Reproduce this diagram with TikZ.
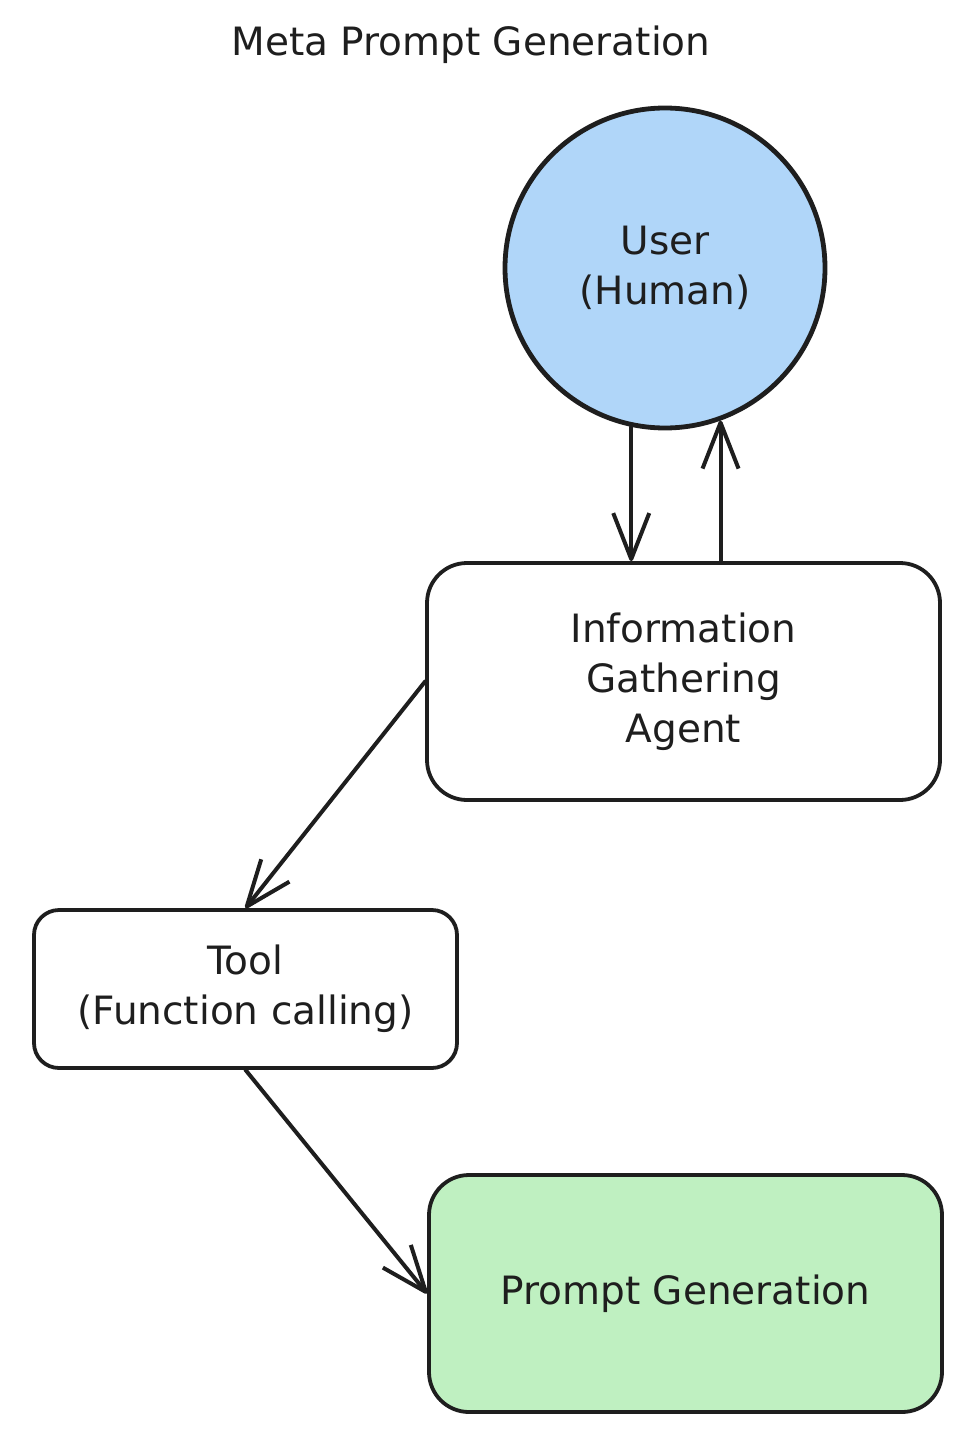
\documentclass[tikz,border=0pt]{standalone}
\usepackage{fontspec}
\setmainfont{DejaVu Sans}
\usetikzlibrary{arrows.meta}
\definecolor{ink}{RGB}{30,30,30}
\definecolor{userblue}{RGB}{176,214,249}
\definecolor{promptgreen}{RGB}{191,240,193}
\begin{document}
\begin{tikzpicture}[x=1pt,y=-1pt,
  txt/.style={font=\fontsize{39}{50}\selectfont, text=ink, align=center},
  box/.style={txt, draw=ink, line width=3.8pt, rectangle, inner sep=0pt},
  arr/.style={draw=ink, line width=4pt, line cap=round,
    -{Straight Barb[length=46pt,width=36pt,line join=round]}}]
%\draw[step=50pt,gray,very thin] (0,0) grid (976,1442);
\useasboundingbox (0,0) rectangle (976,1442);
\node[txt] (title) at (471,45) {Meta Prompt Generation};
\node[box, circle, fill=userblue, line width=4.8pt, minimum size=320pt] (user) at (665,268) {User\\(Human)};
\node[box, rounded corners=40pt, minimum width=513pt, minimum height=237pt] (info) at (683.5,681.5) {Information\\Gathering\\Agent};
\node[box, rounded corners=25pt, minimum width=423pt, minimum height=158pt] (tool) at (245.5,989) {Tool\\(Function calling)};
\node[box, fill=promptgreen, rounded corners=40pt, minimum width=513pt, minimum height=237pt] (prompt) at (685.5,1293.5) {Prompt Generation};
\draw[arr] (user.258) -- (user.258 |- info.north);
\draw[arr] (user.290 |- info.north) -- (user.290);
\draw[arr] (info.west) -- (tool.north);
\draw[arr] (tool.south) -- (prompt.west);
\end{tikzpicture}
\end{document}
